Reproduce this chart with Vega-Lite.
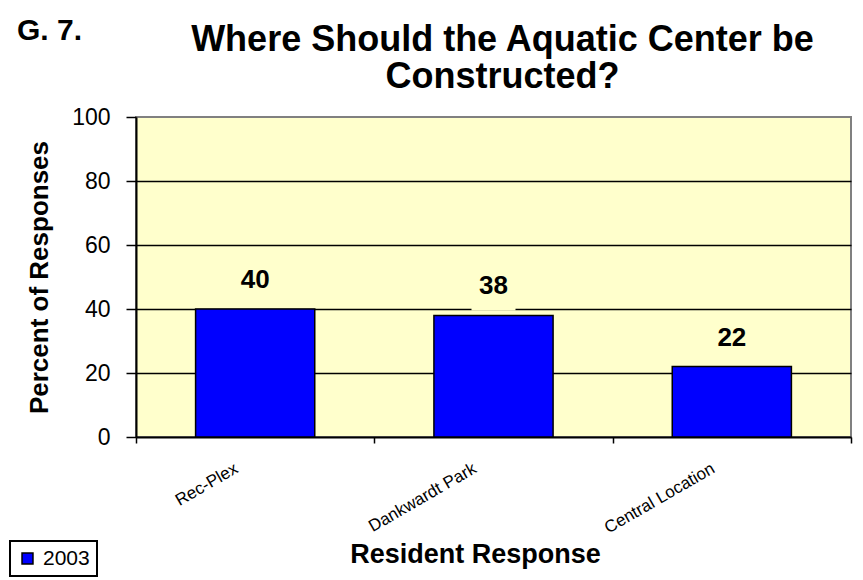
{
  "$schema": "https://vega.github.io/schema/vega-lite/v6.json",
  "autosize": {"type": "pad"},
  "padding": {"left": 9, "top": 16, "right": 10, "bottom": 1},
  "background": "white",
  "title": {"text": "G. 7.", "anchor": "start", "frame": "bounds", "fontSize": 30, "font": "Liberation Sans", "fontWeight": "bold", "color": "black", "offset": -25, "dx": 8},
  "data": {"values": [
    {"location": "Rec-Plex", "percent": 40, "year": "2003"},
    {"location": "Dankwardt Park", "percent": 38, "year": "2003"},
    {"location": "Central Location", "percent": 22, "year": "2003"}
  ]},
  "vconcat": [
    {
      "width": 715,
      "height": 320,
      "title": {"text": ["Where Should the Aquatic Center be", "Constructed?"], "fontSize": 36, "fontWeight": "bold", "font": "Liberation Sans", "lineHeight": 37, "anchor": "middle", "dx": 9, "baseline": "bottom", "offset": -26, "color": "black"},
      "layer": [
        {
          "mark": {"type": "bar", "stroke": "black", "strokeWidth": 1.5, "width": {"band": 0.5}},
          "encoding": {
            "x": {"field": "location", "type": "nominal", "sort": null,
              "scale": {"paddingInner": 0, "paddingOuter": 0},
              "axis": {"labelAngle": -30, "labelAlign": "right", "labelBaseline": "middle", "labelFontSize": 17, "labelFont": "Liberation Sans", "labelColor": "black", "labelPadding": 24, "labelOffset": -19, "tickBand": "extent", "tickSize": 6, "tickColor": "black", "tickWidth": 1.5, "domainColor": "black", "domainWidth": 2, "grid": false,
                "title": "Resident Response", "titleFontSize": 27, "titleFont": "Liberation Sans", "titleFontWeight": "bold", "titleColor": "black", "titleX": 339, "titleY": 125, "titleBaseline": "alphabetic", "titleAlign": "center"}},
            "y": {"field": "percent", "type": "quantitative", "scale": {"domain": [0, 100]},
              "axis": {"values": [0, 10, 20, 30, 40, 50, 60, 70, 80, 90, 100], "labelExpr": "datum.value % 20 === 0 ? datum.label : ''", "labelFontSize": 23, "labelFont": "Liberation Sans", "labelColor": "black", "labelPadding": 16, "tickSize": 10, "tickColor": "black", "tickWidth": 1.5, "domainColor": "black", "domainWidth": 2,
                "grid": true, "gridColor": "black", "gridWidth": 1.5,
                "gridOpacity": {"condition": {"test": "datum.value % 20 === 0 && datum.value > 0 && datum.value < 100", "value": 1}, "value": 0},
                "title": "Percent of Responses", "titleFontSize": 26, "titleFont": "Liberation Sans", "titleFontWeight": "bold", "titleColor": "black", "titlePadding": 19}},
            "color": {"field": "year", "type": "nominal", "scale": {"range": ["#0000FF"]},
              "legend": {"orient": "none", "legendX": -126, "legendY": 424, "title": null, "strokeColor": "black", "padding": 7, "symbolType": "square", "symbolSize": 120, "symbolStrokeColor": "black", "symbolStrokeWidth": 1.5, "symbolOpacity": 1, "labelFontSize": 21, "labelFont": "Liberation Sans", "labelColor": "black", "labelOffset": 5, "fillColor": "white",
                "encode": {"legend": {"update": {"strokeWidth": {"value": 2}}}}}}
          }
        },
        {
          "mark": {"type": "bar", "color": "#FFFFCC", "width": 44, "yOffset": -46, "y2Offset": -5},
          "encoding": {
            "x": {"field": "location", "type": "nominal", "sort": null},
            "y": {"field": "percent", "type": "quantitative"},
            "y2": {"field": "percent"}
          }
        },
        {
          "mark": {"type": "text", "fontSize": 26, "fontWeight": "bold", "font": "Liberation Sans", "color": "black", "dy": -29, "baseline": "middle"},
          "encoding": {
            "x": {"field": "location", "type": "nominal", "sort": null},
            "y": {"field": "percent", "type": "quantitative"},
            "text": {"field": "percent", "type": "quantitative"}
          }
        }
      ]
    }
  ],
  "config": {
    "view": {"fill": "#FFFFCC", "stroke": "#808080", "strokeWidth": 2}
  }
}
